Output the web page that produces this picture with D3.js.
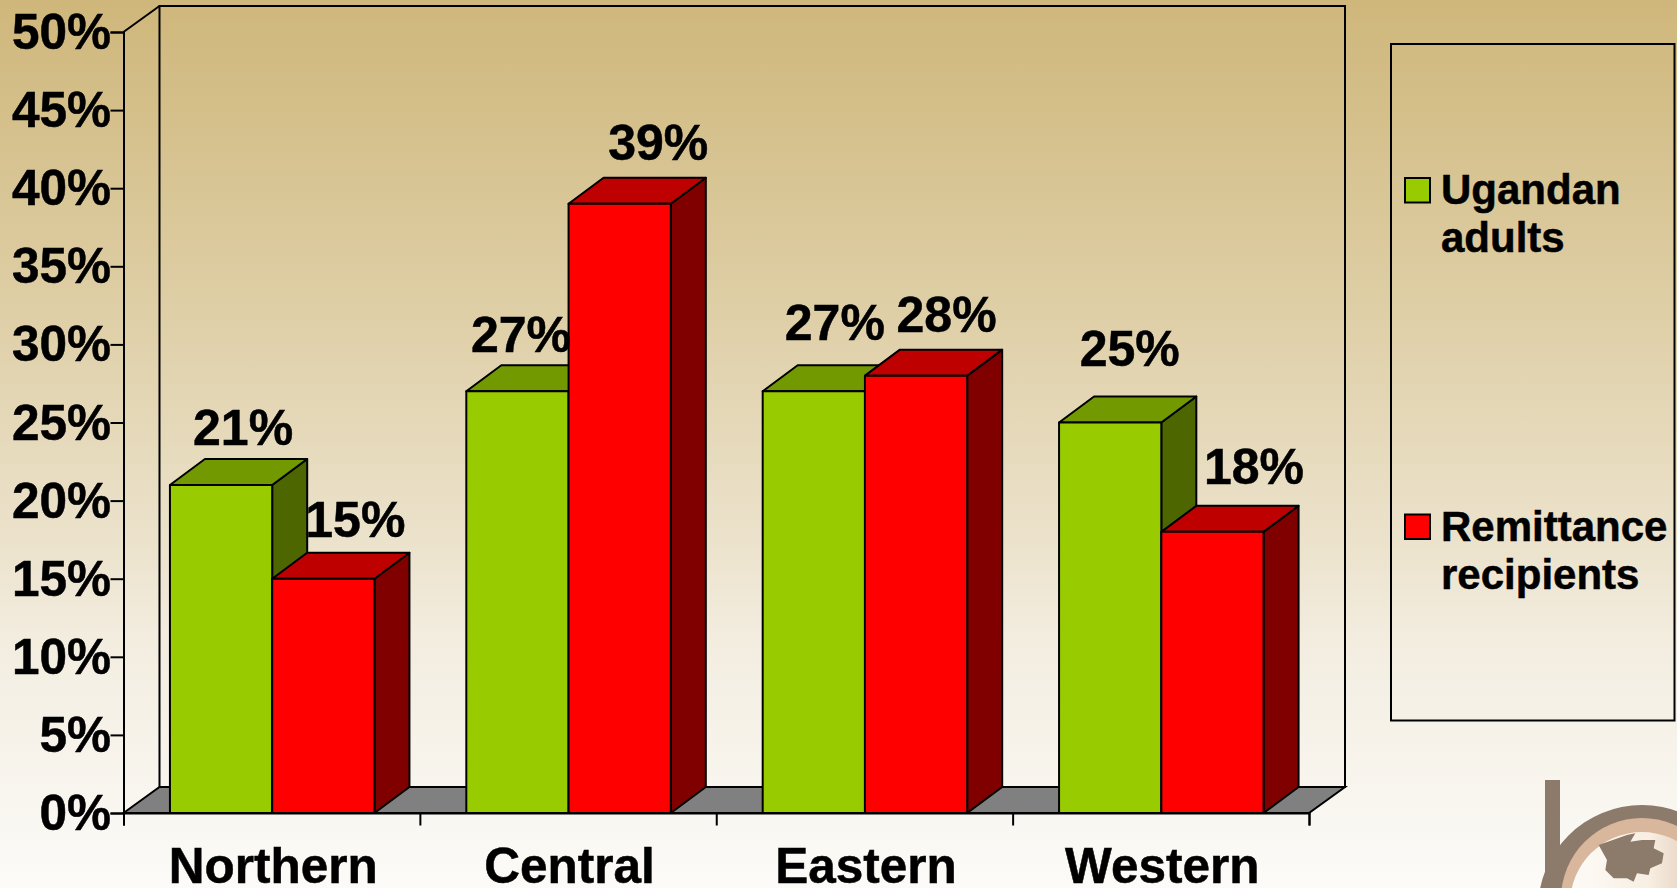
<!DOCTYPE html>
<html>
<head>
<meta charset="utf-8">
<style>
  html, body { margin: 0; padding: 0; background: #fbfaf6; overflow: hidden; }
  svg { display: block; }
  text { font-family: "Liberation Sans", Arial, sans-serif; font-weight: bold; fill: #000; stroke: #000; stroke-width: 0.5px; }
</style>
<script src="https://cdnjs.cloudflare.com/ajax/libs/d3/7.8.5/d3.min.js"></script>
</head>
<body>
<div id="chart"></div>
<script>
// Chart data
var categories = ["Northern", "Central", "Eastern", "Western"];
var ugandanAdults = [21, 27, 27, 25];
var remittanceRecipients = [15, 39, 28, 18];
var yTicks = [0, 5, 10, 15, 20, 25, 30, 35, 40, 45, 50];
var seriesNames = ["Ugandan adults", "Remittance recipients"];

// Canvas
var width = 1677;
var height = 888;

// Plot box: front plane of the 3D chart
var x0 = 123.5, x1 = 1309;
var y0 = 813, y1 = 32;

// Wall offset, and the slightly smaller offset of the bars
var wallDx = 36, wallDy = 26;
var barDx = 35, barDy = 26;

// Outline weight used for all the chart lines
var lineW = 2;

var svg = d3
  .select("#chart")
  .append("svg")
  .attr("width", width)
  .attr("height", height);

// Background gradient
var defs = svg.append("defs");
var grad = defs.append("linearGradient")
  .attr("id", "bg")
  .attr("x1", 0).attr("y1", 0).attr("x2", 0).attr("y2", 1);
grad.append("stop").attr("offset", "0%").attr("stop-color", "#cfb77b");
grad.append("stop").attr("offset", "34%").attr("stop-color", "#decea5");
grad.append("stop").attr("offset", "63%").attr("stop-color", "#ede4cf");
grad.append("stop").attr("offset", "72%").attr("stop-color", "#f3ede0");
grad.append("stop").attr("offset", "100%").attr("stop-color", "#fcfbf8");

defs.append("filter").attr("id", "soft")
  .append("feGaussianBlur").attr("stdDeviation", 0.7);

var globeGrad = defs.append("linearGradient").attr("id", "globe");
globeGrad.append("stop").attr("offset", "0%").attr("stop-color", "#fdfbf8");
globeGrad.append("stop").attr("offset", "55%").attr("stop-color", "#f8eee2");
globeGrad.append("stop").attr("offset", "100%").attr("stop-color", "#d9c2ab");

svg.append("rect")
  .attr("width", width)
  .attr("height", height)
  .attr("fill", "url(#bg)");

// Scales
var yScale = d3.scaleLinear().domain([0, 50]).range([y0, y1]);

var xBand = d3.scaleBand()
  .domain(categories)
  .range([x0 + 0.5, x1 + 0.5])
  .paddingInner(0.31)
  .paddingOuter(0.155);

var xSeries = d3.scaleBand()
  .domain([0, 1])
  .range([0, xBand.bandwidth()]);

var xTick = d3.scaleLinear().domain([0, categories.length]).range([x0, x1]);

var poly = d3.line();

// Back wall and floor
svg.append("path")
  .attr("d", poly([[x0, y0], [x0 + wallDx, y0 - wallDy], [x1 + wallDx, y0 - wallDy], [x1, y0]]) + "Z")
  .attr("fill", "#808080")
  .attr("stroke", "#000")
  .attr("stroke-width", lineW);

svg.append("rect")
  .attr("x", x0 + wallDx)
  .attr("y", y1 - wallDy)
  .attr("width", x1 - x0)
  .attr("height", y0 - y1)
  .attr("fill", "none")
  .attr("stroke", "#000")
  .attr("stroke-width", lineW);

svg.append("line")
  .attr("x1", x0).attr("y1", y1)
  .attr("x2", x0 + wallDx).attr("y2", y1 - wallDy)
  .attr("stroke", "#000")
  .attr("stroke-width", lineW);

// Axes
var yAxis = d3.axisLeft(yScale)
  .tickValues(yTicks)
  .tickSize(13)
  .tickPadding(0)
  .tickFormat(function (d) { return d + "%"; });

var yG = svg.append("g")
  .attr("transform", "translate(" + x0 + ",0)")
  .call(yAxis);
yG.selectAll("text").attr("font-size", 49.5).attr("dy", 16.5).attr("x", -12.5);

var xAxis = d3.axisBottom(xTick)
  .tickValues(d3.range(categories.length + 1))
  .tickSize(12.5)
  .tickFormat("");

var xG = svg.append("g")
  .attr("transform", "translate(0," + y0 + ")")
  .call(xAxis);

var catAxis = d3.axisBottom(xBand).tickSize(0).tickPadding(0);
var catG = svg.append("g")
  .attr("transform", "translate(1," + y0 + ")")
  .call(catAxis);
catG.select(".domain").remove();
catG.selectAll("text").attr("font-size", 49.5).attr("y", 70).attr("dy", 0);

svg.selectAll(".domain").attr("stroke-width", lineW);
svg.selectAll(".tick line").attr("stroke-width", lineW);

// One colour set per series: front, top, side
var fills = [
  { front: "#99cc00", top: "#739900", side: "#4d6600" },
  { front: "#ff0000", top: "#bf0000", side: "#800000" }
];

// 3D bars, green first so the red ones overlap its side face
var barRows = [];
categories.forEach(function (cat, i) {
  barRows.push({ cat: cat, s: 0, value: ugandanAdults[i] });
  barRows.push({ cat: cat, s: 1, value: remittanceRecipients[i] });
});

var bars = svg.selectAll(".bar")
  .data(barRows)
  .enter()
  .append("g")
  .attr("class", "bar")
  .attr("stroke", "#000")
  .attr("stroke-width", lineW)
  .attr("stroke-linejoin", "round");

function barLeft(d) { return xBand(d.cat) + xSeries(d.s); }
function barRight(d) { return barLeft(d) + xSeries.bandwidth(); }

bars.append("path")
  .attr("fill", function (d) { return fills[d.s].side; })
  .attr("d", function (d) {
    var r = barRight(d), t = yScale(d.value);
    return poly([[r, y0], [r + barDx, y0 - barDy], [r + barDx, t - barDy], [r, t]]) + "Z";
  });

bars.append("path")
  .attr("fill", function (d) { return fills[d.s].top; })
  .attr("d", function (d) {
    var l = barLeft(d), r = barRight(d), t = yScale(d.value);
    return poly([[l, t], [l + barDx, t - barDy], [r + barDx, t - barDy], [r, t]]) + "Z";
  });

bars.append("rect")
  .attr("fill", function (d) { return fills[d.s].front; })
  .attr("x", barLeft)
  .attr("y", function (d) { return yScale(d.value); })
  .attr("width", xSeries.bandwidth())
  .attr("height", function (d) { return y0 - yScale(d.value); });

// Value labels were hand placed in the original, so each has its own nudge
var labelNudge = [
  [22, -39.7], [32, -41.4],
  [3.5, -39.3], [38.5, -43.7],
  [21, -51.7], [30.5, -43.7],
  [19.5, -56.3], [41.5, -48.2]
];

svg.selectAll(".valueLabel")
  .data(barRows)
  .enter()
  .append("text")
  .attr("class", "valueLabel")
  .attr("font-size", 50)
  .attr("text-anchor", "middle")
  .attr("x", function (d, i) { return barLeft(d) + xSeries.bandwidth() / 2 + labelNudge[i][0]; })
  .attr("y", function (d, i) { return yScale(d.value) + labelNudge[i][1]; })
  .text(function (d) { return d.value + "%"; });

// Legend
svg.append("rect")
  .attr("x", 1391)
  .attr("y", 44)
  .attr("width", 283.5)
  .attr("height", 676.5)
  .attr("fill", "none")
  .attr("stroke", "#000")
  .attr("stroke-width", lineW);

var legendY = [204, 540.5];
var legend = svg.selectAll(".legendItem")
  .data(seriesNames)
  .enter()
  .append("g")
  .attr("class", "legendItem")
  .attr("transform", function (d, i) { return "translate(1441," + legendY[i] + ")"; });

legend.append("rect")
  .attr("x", -36)
  .attr("y", -26)
  .attr("width", 25)
  .attr("height", 24.5)
  .attr("fill", function (d, i) { return fills[i].front; })
  .attr("stroke", "#000")
  .attr("stroke-width", lineW);

legend.selectAll("text")
  .data(function (d) { return d.split(" "); })
  .enter()
  .append("text")
  .attr("font-size", 42)
  .attr("y", function (d, i) { return i * 48; })
  .text(function (d) { return d; });

// Logo in the bottom right corner
var logo = svg.append("g").attr("filter", "url(#soft)");
logo.append("rect").attr("x", 1545).attr("y", 780).attr("width", 15).attr("height", 110).attr("fill", "#8c7a6b");
logo.append("circle").attr("cx", 1642).attr("cy", 909).attr("r", 104).attr("fill", "#8c7a6b");
logo.append("circle").attr("cx", 1642).attr("cy", 899).attr("r", 81).attr("fill", "#d9b79c");
logo.append("circle").attr("cx", 1642).attr("cy", 904).attr("r", 72).attr("fill", "url(#globe)");
logo.append("path")
  .attr("transform", "translate(1527,770) scale(0.3333)")
  .attr("fill", "#8c7a6b")
  .attr("d", "M215,225L300,195L325,190L310,215L345,210L385,210L380,235L410,250L405,280L370,295L365,315L330,310L320,335L300,325L260,325L235,300L240,270Z");
</script>
</body>
</html>
